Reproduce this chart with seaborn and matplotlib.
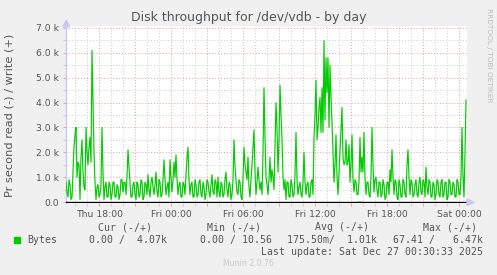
import numpy as np
import pandas as pd
import matplotlib
matplotlib.use("Agg")
import matplotlib.pyplot as plt
import matplotlib.dates as mdates
from matplotlib.patches import Rectangle, Polygon
from matplotlib.ticker import FixedLocator
import seaborn as sns

# ---------------- data (write in k bytes/s, 5-minute steps) ----------------
start_time = "2025-12-25 15:13:30"
step = "5min"
write_k = [
    0.8, 0.4, 0.2, 0.9, 0.7, 0.1, 0.2, 1.2, 2.2, 2.7, 3.0, 1.0, 1.6, 1.5, 0.1, 1.8, 2.5, 1.2, 0.6, 0.5,
    3.0, 2.0, 1.5, 2.2, 2.6, 1.6, 6.1, 4.0, 2.0, 0.8, 0.1, 0.6, 0.7, 0.2, 0.3, 0.7, 3.0, 1.2, 0.1, 0.6,
    0.8, 0.2, 0.2, 0.8, 0.7, 0.1, 0.3, 0.8, 0.8, 0.2, 0.2, 0.7, 0.6, 0.1, 0.3, 0.9, 0.9, 0.4, 0.8, 0.8,
    0.3, 1.0, 2.1, 1.4, 0.8, 0.2, 0.2, 0.7, 0.8, 0.3, 0.1, 0.8, 0.7, 0.2, 0.3, 0.9, 0.8, 0.1, 0.2, 0.8,
    0.7, 0.3, 1.1, 0.5, 0.2, 0.8, 1.0, 0.6, 0.3, 0.7, 1.2, 0.4, 0.2, 0.9, 0.8, 0.2, 0.3, 0.9, 1.7, 0.9,
    0.3, 0.6, 0.8, 0.2, 1.7, 1.0, 0.4, 0.9, 1.6, 1.0, 1.9, 0.9, 0.3, 0.7, 0.8, 0.2, 0.2, 0.8, 0.7, 0.3,
    1.1, 1.8, 2.2, 0.9, 0.3, 0.7, 0.8, 0.2, 0.2, 0.9, 0.7, 0.2, 0.3, 0.8, 0.9, 0.3, 0.2, 0.8, 0.6, 0.1,
    0.3, 0.9, 0.8, 0.4, 0.2, 0.7, 1.1, 0.4, 0.3, 0.9, 0.8, 0.2, 1.0, 0.4, 0.2, 0.8, 0.7, 0.2, 0.3, 0.9,
    1.2, 0.5, 0.2, 0.8, 0.7, 0.1, 0.3, 0.9, 2.5, 1.4, 0.9, 0.4, 0.3, 0.9, 0.8, 0.2, 0.1, 1.0, 2.2, 1.5,
    1.2, 0.9, 1.8, 0.6, 0.2, 0.9, 1.5, 2.2, 2.9, 1.2, 0.3, 0.8, 1.4, 0.9, 0.5, 0.8, 0.3, 2.0, 4.6, 2.6,
    1.0, 0.7, 0.3, 0.9, 1.8, 0.8, 1.3, 1.0, 0.5, 2.2, 4.0, 3.0, 1.2, 2.5, 4.7, 3.5, 2.5, 1.0, 0.5, 0.9,
    0.1, 0.8, 0.8, 0.2, 0.2, 0.9, 0.7, 0.2, 0.3, 1.1, 2.8, 0.9, 0.3, 0.6, 0.8, 0.3, 0.2, 0.8, 2.0, 0.8,
    0.3, 0.7, 0.8, 0.2, 0.2, 0.8, 0.9, 0.3, 2.6, 3.5, 4.9, 2.5, 3.0, 3.8, 4.2, 2.8, 4.6, 2.8, 6.5, 3.3,
    5.8, 4.4, 5.8, 3.0, 5.5, 4.2, 3.2, 2.0, 0.8, 1.5, 2.7, 1.0, 0.3, 1.2, 2.2, 2.9, 3.8, 1.8, 1.5, 1.6,
    2.5, 1.5, 1.6, 2.3, 0.8, 1.5, 2.7, 0.9, 0.4, 0.9, 0.8, 0.3, 0.3, 0.8, 2.6, 1.2, 1.8, 1.2, 2.8, 1.0,
    0.3, 0.8, 0.8, 0.3, 0.2, 1.0, 3.0, 1.5, 0.4, 0.9, 1.0, 0.5, 0.2, 0.8, 0.8, 0.2, 0.3, 0.9, 0.7, 0.1,
    0.2, 0.8, 0.8, 0.3, 1.3, 0.8, 2.1, 1.0, 0.3, 0.9, 0.8, 0.2, 0.1, 0.9, 0.7, 0.2, 0.2, 0.9, 0.8, 0.3,
    0.2, 1.5, 2.1, 1.0, 0.3, 0.9, 0.8, 0.2, 0.3, 0.7, 0.9, 0.3, 0.2, 0.8, 1.0, 0.4, 0.3, 0.9, 0.8, 0.2,
    1.4, 0.6, 0.3, 0.9, 0.8, 0.2, 0.2, 0.8, 0.7, 0.1, 0.3, 0.9, 0.8, 0.3, 0.2, 0.8, 0.9, 0.2, 0.3, 0.8,
    0.8, 0.1, 0.2, 0.9, 0.8, 0.3, 0.3, 0.8, 0.7, 0.2, 0.2, 0.9, 0.8, 0.3, 0.3, 1.0, 3.0, 1.0, 0.2, 2.0,
    4.1,
]
read_times = ["2025-12-26 15:38:30", "2025-12-26 15:43:30", "2025-12-26 15:48:30"]
read_bytes = [0.0, 67.41, 0.0]

x_tick_times = ["2025-12-25 18:00", "2025-12-26 00:00", "2025-12-26 06:00",
                "2025-12-26 12:00", "2025-12-26 18:00", "2025-12-27 00:00"]
x_tick_labels = ["Thu 18:00", "Fri 00:00", "Fri 06:00", "Fri 12:00", "Fri 18:00", "Sat 00:00"]
y_ticks = [0, 1, 2, 3, 4, 5, 6, 7]
y_tick_labels = ["0.0", "1.0 k", "2.0 k", "3.0 k", "4.0 k", "5.0 k", "6.0 k", "7.0 k"]

title = "Disk throughput for /dev/vdb - by day"
y_label = "Pr second read (-) / write (+)"
legend_name = "Bytes"
legend_heads = ["Cur (-/+)", "Min (-/+)", "Avg (-/+)", "Max (-/+)"]
legend_vals = ["0.00 /  4.07k", "0.00 / 10.56", "175.50m/  1.01k", "67.41 /   6.47k"]
last_update = "Last update: Sat Dec 27 00:30:33 2025"
footer = "Munin 2.0.76"
side_text = "RRDTOOL / TOBI OETIKER"

# ---------------- build frames ----------------
times = pd.date_range(start_time, periods=len(write_k), freq=step)
df_w = pd.DataFrame({"time": times, "value": write_k})
df_r = pd.DataFrame({"time": pd.to_datetime(read_times),
                     "value": [-v / 1000.0 for v in read_bytes]})

W, H = 497, 275
fig = plt.figure(figsize=(W / 100, H / 100), dpi=100, facecolor="#F0F0F0")
L, R, T, B = 66, 467, 26, 203
ax = fig.add_axes([L / W, 1 - B / H, (R - L) / W, (B - T) / H])
ax.set_facecolor("white")

GREEN = "#00CC00"
sns.lineplot(data=df_w, x="time", y="value", ax=ax, color=GREEN, lw=0.85, zorder=3)
sns.lineplot(data=df_r, x="time", y="value", ax=ax, color=GREEN, lw=0.85, zorder=3)

t0 = pd.Timestamp(start_time)
t1 = t0 + pd.Timedelta(minutes=2005)
ax.set_xlim(mdates.date2num(t0), mdates.date2num(t1))
ax.set_ylim(-0.04, 7.08)

# grids
major_x = pd.date_range("2025-12-25 18:00", "2025-12-27 00:00", freq="3h")
minor_x = pd.date_range("2025-12-25 16:00", "2025-12-27 00:00", freq="1h")
minor_x = [m for m in minor_x if m not in set(major_x)]
ax.xaxis.set_major_locator(FixedLocator(mdates.date2num(major_x)))
ax.xaxis.set_minor_locator(FixedLocator(mdates.date2num(minor_x)))
lab_map = {mdates.date2num(pd.Timestamp(t)): l for t, l in zip(x_tick_times, x_tick_labels)}
ax.set_xticklabels([lab_map.get(mdates.date2num(m), "") for m in major_x])

ax.set_yticks(y_ticks)
ax.set_yticklabels(y_tick_labels)
ax.set_yticks([0.5, 1.5, 2.5, 3.5, 4.5, 5.5, 6.5], minor=True)

dot = (0, (1, 2))
ax.grid(which="major", axis="both", color="#E6A0A0", lw=0.7, linestyle=dot, zorder=0)
ax.grid(which="minor", axis="both", color="#CCCCCC", lw=0.7, linestyle=dot, zorder=0)
ax.set_axisbelow(True)

ax.tick_params(axis="both", which="major", length=2, width=0.7, color="#E6A0A0",
               labelsize=6.7, labelcolor="#555555", pad=3)
ax.tick_params(axis="both", which="minor", length=2, width=0.7, color="#CCCCCC")
ax.set_xlabel("")
ax.set_ylabel("")

for s in ["top", "right", "bottom"]:
    ax.spines[s].set_visible(False)
ax.spines["left"].set_color("#C8C8F0")
ax.spines["left"].set_linewidth(1.0)

ax.axhline(0, color="black", lw=1.0, zorder=4)

# arrows
def px(x, y):
    return (x / W, 1 - y / H)
arrow_c = "#C8C8F0"
fig.patches.append(Polygon([px(63, 27), px(69.5, 27), px(66.3, 20)], closed=True,
                           transform=fig.transFigure, color=arrow_c, zorder=5))
fig.patches.append(Polygon([px(467, 199), px(467, 205.5), px(474, 202.3)], closed=True,
                           transform=fig.transFigure, color=arrow_c, zorder=5))

# texts
fig.text(248.5 / W, 1 - 18 / H, title, ha="center", va="center", fontsize=9.0, color="#555555")
fig.text(10 / W, 1 - 115 / H, y_label, ha="center", va="center", rotation=90,
         fontsize=8.2, color="#555555")
fig.text(489 / W, 1 - 8 / H, side_text, ha="center", va="top", rotation=270,
         fontsize=5.3, color="#BBBBBB")

mono = "DejaVu Sans Mono"
head_x = [98, 207, 315, 423]
for hx, h in zip(head_x, legend_heads):
    fig.text(hx / W, 1 - 227 / H, h, ha="left", va="center", fontsize=7.1,
             family=mono, color="#555555")
fig.patches.append(Rectangle(px(14, 243), 6 / W, 6 / H, transform=fig.transFigure,
                             color=GREEN, zorder=5))
fig.text(27 / W, 1 - 240 / H, legend_name, ha="left", va="center", fontsize=7.1,
         family=mono, color="#555555")
val_end = [167, 272, 377, 483]
for vx, v in zip(val_end, legend_vals):
    fig.text(vx / W, 1 - 240 / H, v, ha="right", va="center", fontsize=7.1,
             family=mono, color="#555555")
fig.text(483 / W, 1 - 252 / H, last_update, ha="right", va="center", fontsize=7.1,
         family=mono, color="#555555")
fig.text(248 / W, 1 - 264 / H, footer, ha="center", va="center", fontsize=5.6,
         color="#C8C8C8")

fig.savefig("out.png", dpi=100, facecolor=fig.get_facecolor())
